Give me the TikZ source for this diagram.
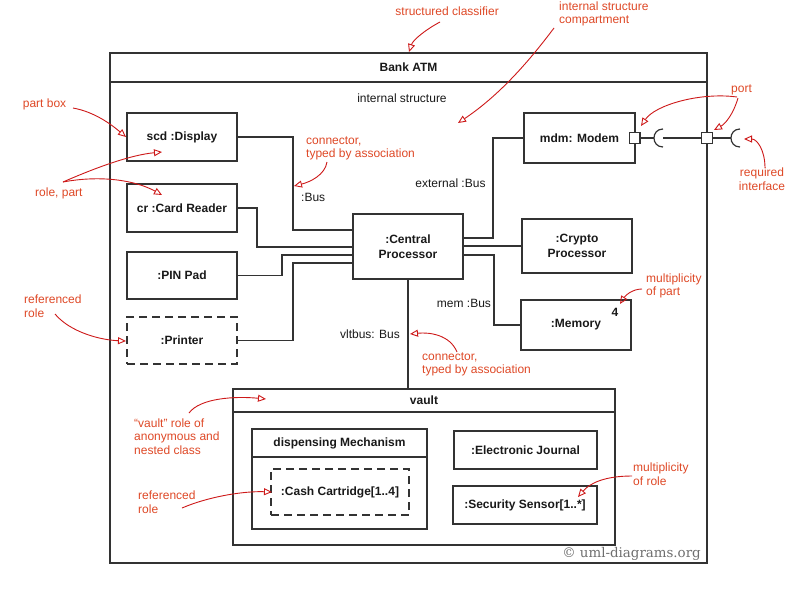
\documentclass[tikz,border=0pt]{standalone}
\usepackage{fontspec}
\setmainfont{Liberation Sans}
\newfontfamily\wmfont{DejaVu Serif}
\usetikzlibrary{arrows.meta}
\definecolor{annot}{RGB}{222,72,38}
\definecolor{arr}{RGB}{205,25,25}
\definecolor{ln}{RGB}{51,51,51}
\definecolor{wm}{RGB}{110,110,110}
\begin{document}
\begin{tikzpicture}[x=1pt,y=-1pt,
 box/.style={draw=ln, line width=1.2pt, inner sep=0pt, outer sep=0pt, font=\bfseries\fontsize{12}{15}\selectfont, align=center, text=black!90},
 refbox/.style={box, dash pattern=on 8pt off 5pt},
 conn/.style={draw=ln, line width=1.2pt},
 portbox/.style={draw=ln, line width=1.2pt, fill=white, minimum size=10.5pt, inner sep=0pt, outer sep=0pt},
 lbl/.style={font=\fontsize{12}{14}\selectfont, inner sep=0pt, text=black!90},
 blbl/.style={font=\bfseries\fontsize{12}{14}\selectfont, inner sep=0pt, text=black!90},
 note/.style={font=\fontsize{12}{13.7}\selectfont, text=annot, inner sep=0pt, align=left},
 callout/.style={draw=arr, line width=0.9pt, -{Triangle[open, length=8pt, width=7pt]}},
]
\useasboundingbox (0,0) rectangle (804,592);

% structured classifier frame
\node[box, minimum width=597pt, minimum height=510pt] (atm) at (408.5,308) {};
\draw[conn] (atm.north west) ++(0,29) coordinate (atmdl) -- (atmdl -| atm.east);
\node[blbl] (atmtitle) at (408.5,67.5) {Bank ATM};
\node[lbl] (istr) at (402,98) {internal structure};

% parts
\node[box, minimum width=110pt, minimum height=48pt] (disp) at (182,137) {scd :Display};
\node[box, minimum width=110pt, minimum height=48pt] (cr) at (182,208) {cr :Card Reader};
\node[box, minimum width=110pt, minimum height=47pt] (pin) at (182,275.5) {:PIN Pad};
\node[refbox, minimum width=110pt, minimum height=47pt] (prn) at (182,340.5) {:Printer};
\node[box, minimum width=110pt, minimum height=65pt] (cpu) at (408,246.5) {:Central\\Processor};
\node[box, minimum width=110pt, minimum height=54pt] (cry) at (577,246) {:Crypto\\Processor};
\node[box, minimum width=110pt, minimum height=50pt] (mem) at (576,325) {:Memory};
\node[blbl] (memmult) at (615,312) {4};
\node[box, minimum width=111pt, minimum height=50pt] (mdm) at (579.5,138) {mdm: Modem};

% vault
\node[box, minimum width=382pt, minimum height=156pt] (vault) at (424,467) {};
\draw[conn] (vault.north west) ++(0,23) coordinate (vdl) -- (vdl -| vault.east);
\node[blbl] (vaulttitle) at (424,400.5) {vault};
\node[box, minimum width=175pt, minimum height=100pt] (disp2) at (339.5,479) {};
\draw[conn] (disp2.north west) ++(0,28) coordinate (ddl) -- (ddl -| disp2.east);
\node[blbl] (disptitle) at (339.5,443) {dispensing Mechanism};
\node[refbox, minimum width=138pt, minimum height=46pt] (cash) at (340,492) {:Cash Cartridge[1..4]};
\node[box, minimum width=143pt, minimum height=38pt] (ej) at (525.5,450) {:Electronic Journal};
\node[box, minimum width=144pt, minimum height=38pt] (sens) at (525,505) {:Security Sensor[1..*]};

% connectors
\draw[conn] (disp.east) -| (293,230) -- (cpu.west |- 0,230);
\draw[conn] (cr.east) -| (257,247) -- (cpu.west |- 0,247);
\draw[conn] (pin.east) -| (282,255) -- (cpu.west |- 0,255);
\draw[conn] (prn.east) -| (293,263) -- (cpu.west |- 0,263);
\draw[conn] (cpu.east |- 0,238) -| (493,138) -- (mdm.west);
\draw[conn] (cpu.east |- 0,246) -- (cry.west |- 0,246);
\draw[conn] (cpu.east |- 0,255) -| (494,325) -- (mem.west);
\draw[conn] (cpu.south) -- (cpu.south |- vault.north);
\node[lbl, anchor=west] (bus1) at (301,197.5) {:Bus};
\node[lbl] (bus2) at (450.5,183) {external :Bus};
\node[lbl] (bus3) at (464,303) {mem :Bus};
\node[lbl] (bus4) at (370,334) {vltbus: Bus};

% ports and required interfaces
\node[portbox] (p1) at (634.7,138) {};
\node[portbox] (p2) at (707,138) {};
\draw[conn] (p1.east) -- (654,138);
\draw[conn] (663,129) .. controls (651,129) and (651,147) .. (663,147);
\draw[conn] (663,138) -- (p2.west);
\draw[conn] (p2.east) -- (731,138);
\draw[conn] (740,129) .. controls (728,129) and (728,147) .. (740,147);

% annotations
\node[note, anchor=east] (n1) at (499,11) {structured classifier};
\node[note, anchor=west] (n2) at (559,14) {internal structure\\compartment};
\node[note] (n3) at (741.5,90) {port};
\node[note, align=center] (n4) at (762,179) {required\\interface};
\node[note, anchor=west] (n5) at (22.7,104) {part box};
\node[note, anchor=west] (n6) at (35,193) {role, part};
\node[note, anchor=west] (n7) at (306,148.5) {connector,\\typed by association};
\node[note, anchor=west] (n8) at (24,306) {referenced\\role};
\node[note, anchor=west] (n9) at (422,364.5) {connector,\\typed by association};
\node[note, anchor=west] (n10) at (646,286) {multiplicity\\of part};
\node[note, anchor=west] (n11) at (134,436.5) {“vault” role of\\anonymous and\\nested class};
\node[note, anchor=west] (n12) at (138,502) {referenced\\role};
\node[note, anchor=west] (n13) at (633,474.5) {multiplicity\\of role};

\draw[callout] (440,22) .. controls (425,30) and (413,40) .. (409,52);
\draw[callout] (554,28) .. controls (530,60) and (500,95) .. (458,123);
\draw[callout] (737,97) .. controls (700,92) and (655,105) .. (641,126);
\draw[callout] (738,98) .. controls (733,115) and (725,124) .. (714,130);
\draw[callout] (765,168) .. controls (765,150) and (757,139) .. (744,139);
\draw[callout] (73,108) .. controls (95,112) and (112,125) .. (126,137);
\draw[callout] (63,182) .. controls (95,168) and (130,155) .. (162,152);
\draw[callout] (63,182) .. controls (100,175) and (135,180) .. (162,195);
\draw[callout] (327,162) .. controls (325,175) and (310,182) .. (294,186);
\draw[callout] (55,314) .. controls (70,332) and (100,340) .. (126,341);
\draw[callout] (457,352) .. controls (450,335) and (430,332) .. (410,334);
\draw[callout] (642,289) .. controls (632,289) and (625,296) .. (620,304);
\draw[callout] (189,413) .. controls (200,398) and (235,396) .. (266,399);
\draw[callout] (182,508) .. controls (210,496) and (245,491) .. (272,492);
\draw[callout] (632,476) .. controls (605,476) and (590,483) .. (578,497);

% watermark
\node[font=\wmfont\fontsize{13.4}{14}\selectfont, text=wm, anchor=east, inner sep=0pt] (wmk) at (701,554) {© uml-diagrams.org};
\end{tikzpicture}
\end{document}
